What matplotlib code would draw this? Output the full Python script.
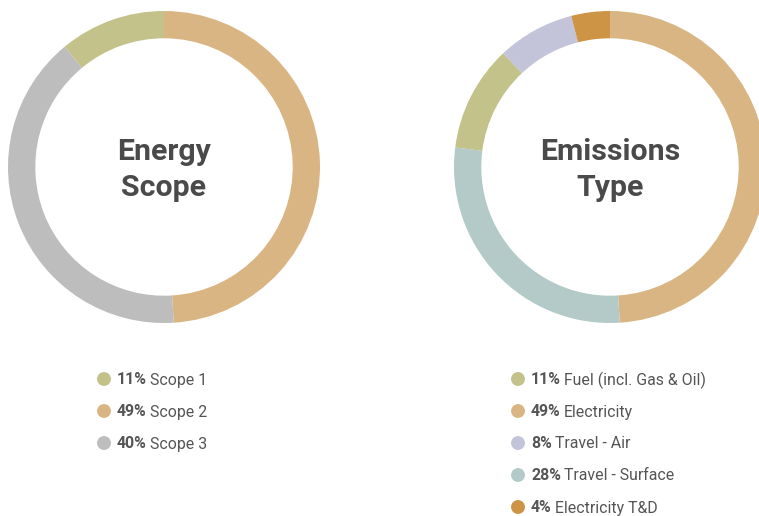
import matplotlib
matplotlib.use("Agg")
import matplotlib.pyplot as plt

plt.rcParams['font.family'] = ['Roboto', 'DejaVu Sans']

# Data
energy_labels = ["Scope 1", "Scope 2", "Scope 3"]
energy_values = [11, 49, 40]
energy_colors = ["#c2c28a", "#d9b583", "#bdbdbd"]
energy_order = [1, 2, 0]  # drawing order clockwise from top

emis_labels = ["Fuel (incl. Gas & Oil)", "Electricity", "Travel - Air", "Travel - Surface", "Electricity T&D"]
emis_values = [11, 49, 8, 28, 4]
emis_colors = ["#c2c28a", "#d9b583", "#c3c3d9", "#b3cac8", "#cc9444"]
emis_order = [1, 3, 0, 2, 4]

W, H = 759, 516
fig = plt.figure(figsize=(W / 100, H / 100), dpi=100)

def donut(cx, cy, r, values, colors, order, title):
    ax = fig.add_axes([(cx - r) / W, 1 - (cy + r) / H, 2 * r / W, 2 * r / H])
    vals = [values[i] for i in order]
    cols = [colors[i] for i in order]
    ax.pie(vals, colors=cols, startangle=90, counterclock=False, radius=1,
           wedgeprops=dict(width=0.175, linewidth=0))
    ax.set_xlim(-1, 1)
    ax.set_ylim(-1, 1)
    ax.set_aspect('equal')
    ax.axis('off')
    ax.text(0, -0.02, title, ha='center', va='center', fontsize=21.8, fontweight='bold',
            color='#4a4a4a', linespacing=1.38)

donut(164, 167, 156, energy_values, energy_colors, energy_order, "Energy\nScope")
donut(610, 167, 156, emis_values, emis_colors, emis_order, "Emissions\nType")

# Legends
lax = fig.add_axes([0, 0, 1, 1])
lax.set_xlim(0, W)
lax.set_ylim(H, 0)
lax.axis('off')

fig.canvas.draw()
renderer = fig.canvas.get_renderer()

def legend(x0, y0, labels, values, colors, step=32):
    for i, (lab, v, c) in enumerate(zip(labels, values, colors)):
        y = y0 + i * step
        lax.scatter([x0], [y], s=100, color=c, edgecolors='none')
        t = lax.text(x0 + 13, y + 1, f"{v}%", fontsize=11.4, fontweight='bold',
                     color='#555555', ha='left', va='center')
        bb = t.get_window_extent(renderer=renderer)
        xend = lax.transData.inverted().transform((bb.x1, 0))[0]
        lax.text(xend + 3, y + 1, lab, fontsize=11.4, color='#555555', ha='left', va='center')

legend(104, 379, energy_labels, energy_values, energy_colors)
legend(518, 379, emis_labels, emis_values, emis_colors)

fig.savefig("out.png", dpi=100, facecolor='white')
